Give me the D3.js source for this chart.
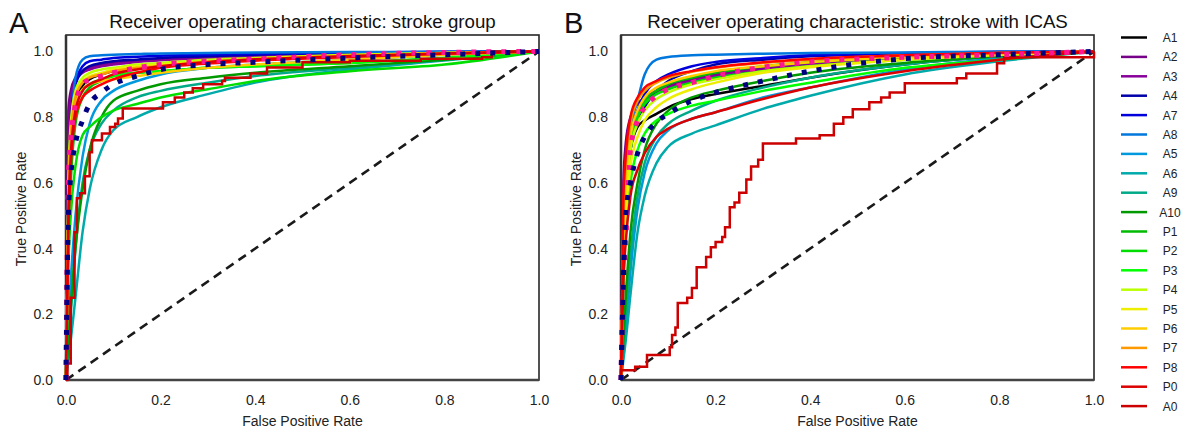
<!DOCTYPE html>
<html><head><meta charset="utf-8">
<script src="https://cdn.jsdelivr.net/npm/d3@7"></script>
<style>body{margin:0;background:#fff}svg{display:block;font-family:"Liberation Sans",Arial,sans-serif}</style>
</head><body><svg id="c" width="1185" height="430"></svg>
<script>
const seriesNames = ["A1","A2","A3","A4","A7","A8","A5","A6","A9","A10","P1","P2","P3","P4","P5","P6","P7","P8","P0","A0"];
const seriesColors = ["#000000","#770088","#880099","#0000aa","#0000dd","#0077dd","#0099dd","#00aaaa","#00aa88","#009900","#00bb00","#00dd00","#00ff00","#bbff00","#eeee00","#ffcc00","#ff9900","#ff0000","#dd0000","#cc0000"];
const fprGrid = [0,0.005,0.01,0.02,0.035,0.05,0.075,0.1,0.15,0.2,0.3,0.4,0.6,0.8,1];
const xTicks = [0,0.2,0.4,0.6,0.8,1.0];
const yTicks = [0,0.2,0.4,0.6,0.8,1.0];
const titles = ["Receiver operating characteristic: stroke group","Receiver operating characteristic: stroke with ICAS"];
const panelLetters = ["A","B"];

// Panel A: TPR at fprGrid for A1..P0
const tprA_A1 = [0,.55,.72,.84,.895,.915,.93,.94,.95,.955,.965,.975,.985,.995,1];
const tprA_A2 = [0,.82,.88,.92,.94,.95,.96,.965,.97,.975,.98,.985,.992,.997,1];
const tprA_A3 = [0,.75,.85,.91,.935,.945,.955,.96,.968,.973,.98,.985,.992,.997,1];
const tprA_A4 = [0,.6,.78,.9,.94,.955,.965,.97,.975,.98,.985,.99,.995,.998,1];
const tprA_A7 = [0,.5,.72,.9,.955,.97,.975,.98,.984,.987,.99,.993,.996,.999,1];
const tprA_A8 = [0,.45,.7,.92,.975,.985,.988,.99,.992,.994,.995,.997,.998,.999,1];
const tprA_A5 = [0,.15,.3,.5,.68,.78,.85,.88,.91,.93,.95,.96,.975,.99,1];
const tprA_A6 = [0,.06,.12,.25,.45,.58,.7,.76,.8,.83,.87,.905,.945,.972,1];
const tprA_A9 = [0,.1,.2,.4,.6,.7,.78,.82,.86,.88,.905,.925,.95,.975,1];
const tprA_A10 = [0,.12,.22,.4,.58,.7,.8,.85,.88,.9,.92,.935,.955,.975,1];
const tprA_P1 = [0,.4,.6,.78,.86,.89,.91,.925,.935,.94,.95,.955,.965,.98,1];
const tprA_P2 = [0,.35,.5,.65,.745,.77,.8,.82,.84,.86,.885,.91,.94,.96,1];
const tprA_P3 = [0,.5,.68,.82,.88,.9,.915,.925,.935,.94,.95,.955,.965,.98,1];
const tprA_P4 = [0,.6,.78,.88,.92,.935,.945,.95,.96,.965,.975,.98,.99,.995,1];
const tprA_P5 = [0,.55,.75,.87,.91,.925,.935,.945,.955,.96,.97,.978,.988,.995,1];
const tprA_P6 = [0,.5,.7,.84,.885,.9,.91,.915,.925,.935,.95,.96,.975,.99,1];
const tprA_P7 = [0,.55,.74,.86,.905,.92,.93,.94,.95,.955,.965,.975,.985,.995,1];
const tprA_P8 = [0,.45,.65,.8,.86,.88,.9,.915,.935,.95,.963,.972,.983,.993,1];
const tprA_P0 = [0,.5,.68,.82,.88,.9,.915,.93,.945,.955,.968,.976,.986,.994,1];
const tprA_pink = [0,.62,.73,.84,.9,.915,.925,.935,.95,.96,.97,.977,.99,.997,1];
const tprA_navy = [0,.5,.62,.72,.79,.84,.875,.9,.925,.945,.96,.967,.98,.99,1];
// A0 step curve points [fpr, tpr]
const stepA_fpr = [0,0.003,0.01,0.018,0.023,0.03,0.04,0.05,0.055,0.076,0.093,0.104,0.11,0.12,0.205,0.23,0.25,0.268,0.29,0.33,0.336,0.39,0.425,0.5,0.6,0.75,0.88,0.9,1];
const stepA_tpr = [0,0.05,0.25,0.45,0.553,0.568,0.62,0.693,0.73,0.75,0.77,0.78,0.796,0.826,0.845,0.86,0.875,0.888,0.9,0.91,0.92,0.933,0.951,0.967,0.972,0.978,0.982,1,1];

// Panel B
const tprB_A1 = [0,.4,.55,.7,.77,.79,.81,.83,.855,.87,.895,.92,.96,.985,1];
const tprB_A2 = [0,.6,.72,.8,.84,.86,.88,.895,.915,.93,.95,.965,.98,.993,1];
const tprB_A3 = [0,.5,.65,.76,.82,.85,.875,.89,.91,.925,.945,.96,.978,.992,1];
const tprB_A4 = [0,.3,.5,.7,.78,.83,.88,.91,.94,.96,.975,.985,.993,.998,1];
const tprB_A7 = [0,.35,.55,.72,.82,.87,.91,.93,.955,.968,.98,.988,.995,.999,1];
const tprB_A8 = [0,.4,.6,.76,.85,.93,.975,.983,.988,.99,.993,.995,.997,.999,1];
const tprB_A5 = [0,.08,.16,.33,.52,.63,.72,.76,.795,.815,.86,.89,.945,.98,1];
const tprB_A6 = [0,.06,.12,.26,.45,.56,.66,.71,.75,.775,.825,.865,.93,.97,1];
const tprB_A9 = [0,.1,.2,.38,.56,.66,.74,.78,.82,.85,.89,.92,.96,.985,1];
const tprB_A10 = [0,.12,.25,.45,.6,.7,.78,.82,.86,.88,.91,.935,.965,.985,1];
const tprB_P1 = [0,.4,.55,.7,.8,.85,.88,.9,.92,.935,.955,.967,.982,.993,1];
const tprB_P2 = [0,.45,.6,.72,.8,.84,.87,.885,.905,.92,.94,.955,.975,.99,1];
const tprB_P3 = [0,.3,.45,.6,.7,.75,.79,.81,.835,.85,.88,.905,.95,.975,1];
const tprB_P4 = [0,.4,.55,.7,.78,.82,.855,.875,.9,.915,.94,.955,.975,.99,1];
const tprB_P5 = [0,.35,.5,.65,.74,.79,.83,.855,.885,.905,.935,.952,.975,.99,1];
const tprB_P6 = [0,.45,.6,.74,.82,.86,.89,.905,.925,.94,.955,.967,.983,.993,1];
const tprB_P7 = [0,.5,.65,.78,.85,.88,.905,.92,.938,.95,.965,.975,.988,.995,1];
const tprB_P8 = [0,.55,.68,.8,.86,.89,.91,.925,.94,.952,.967,.977,.988,.996,1];
const tprB_P0 = [0,.3,.42,.56,.64,.69,.74,.765,.795,.815,.855,.89,.94,.975,1];
const tprB_pink = [0,.3,.42,.7,.79,.83,.865,.885,.905,.925,.952,.968,.982,.99,1];
const tprB_navy = [0,.3,.5,.6,.69,.74,.785,.81,.85,.875,.91,.94,.978,.99,1];
const stepB_fpr = [0,0,0.03,0.055,0.103,0.108,0.115,0.12,0.14,0.15,0.16,0.18,0.19,0.2,0.214,0.22,0.23,0.24,0.25,0.265,0.275,0.29,0.3,0.37,0.42,0.45,0.47,0.49,0.525,0.55,0.568,0.6,0.71,0.73,0.795,0.81,1];
const stepB_tpr = [0,0.03,0.04,0.076,0.1,0.137,0.16,0.234,0.25,0.28,0.343,0.374,0.404,0.42,0.435,0.465,0.526,0.54,0.57,0.61,0.65,0.67,0.72,0.735,0.745,0.78,0.8,0.824,0.845,0.86,0.875,0.903,0.918,0.933,0.964,0.982,1];

const panelsData = [
  {smooth:[tprA_A1,tprA_A2,tprA_A3,tprA_A4,tprA_A7,tprA_A8,tprA_A5,tprA_A6,tprA_A9,tprA_A10,tprA_P1,tprA_P2,tprA_P3,tprA_P4,tprA_P5,tprA_P6,tprA_P7,tprA_P8,tprA_P0],
   stepX:stepA_fpr, stepY:stepA_tpr, pink:tprA_pink, navy:tprA_navy},
  {smooth:[tprB_A1,tprB_A2,tprB_A3,tprB_A4,tprB_A7,tprB_A8,tprB_A5,tprB_A6,tprB_A9,tprB_A10,tprB_P1,tprB_P2,tprB_P3,tprB_P4,tprB_P5,tprB_P6,tprB_P7,tprB_P8,tprB_P0],
   stepX:stepB_fpr, stepY:stepB_tpr, pink:tprB_pink, navy:tprB_navy}
];

const svg = d3.select("#c");
const panelX = [66, 621];
const W = 473, plotTop = 35, plotBottom = 380;

panelsData.forEach((pd, pi) => {
  const x0 = panelX[pi];
  const x = d3.scaleLinear().domain([0,1]).range([x0, x0+W]);
  const y = d3.scaleLinear().domain([0,1.05]).range([plotBottom, plotTop]);
  const g = svg.append("g");
  g.append("rect").attr("x", x0).attr("y", plotTop).attr("width", W).attr("height", plotBottom-plotTop)
    .attr("fill","none").attr("stroke","#262626").attr("stroke-width",1.6);
  g.append("line").attr("x1",x0).attr("x2",x0).attr("y1",plotTop).attr("y2",plotBottom).attr("stroke","#333").attr("stroke-width",2.5);
  g.append("line").attr("x1",x0).attr("x2",x0+W).attr("y1",plotBottom).attr("y2",plotBottom).attr("stroke","#444").attr("stroke-width",2.5);
  const xa = d3.axisBottom(x).tickValues(xTicks).tickFormat(d3.format(".1f")).tickSize(0).tickPadding(15);
  const ya = d3.axisLeft(y).tickValues(yTicks).tickFormat(d3.format(".1f")).tickSize(0).tickPadding(13);
  const gx = g.append("g").attr("transform",`translate(0,${plotBottom})`).call(xa);
  const gy = g.append("g").attr("transform",`translate(${x0},0)`).call(ya);
  [gx,gy].forEach(a => { a.select(".domain").remove(); a.selectAll("text").attr("font-size",14).attr("fill","#222").attr("font-family",'"Liberation Sans",Arial,sans-serif'); });
  const lineLin = d3.line().x(d=>x(d[0])).y(d=>y(d[1]));
  g.append("path").attr("d", lineLin([[xTicks[0],yTicks[0]],[xTicks[5],yTicks[5]]])).attr("fill","none")
    .attr("stroke","#1a1a1a").attr("stroke-width",2.6).attr("stroke-dasharray","9,6");
  const lineSmooth = d3.line().x(d=>x(d[0])).y(d=>y(d[1])).curve(d3.curveMonotoneX);
  pd.smooth.forEach((arr, i) => {
    const pts = fprGrid.map((f,k)=>[f, arr[k]]);
    g.append("path").attr("d", lineSmooth(pts)).attr("fill","none")
      .attr("stroke", seriesColors[i]).attr("stroke-width",2.5).attr("stroke-linejoin","round");
  });
  const lineStep = d3.line().x(d=>x(d[0])).y(d=>y(d[1])).curve(d3.curveStepAfter);
  g.append("path").attr("d", lineStep(pd.stepX.map((f,k)=>[f, pd.stepY[k]]))).attr("fill","none")
    .attr("stroke", seriesColors[19]).attr("stroke-width",2.5);
  [[pd.pink,"#ff1493"],[pd.navy,"#000080"]].forEach(([arr,col]) => {
    g.append("path").attr("d", lineSmooth(fprGrid.map((f,k)=>[f, arr[k]]))).attr("fill","none")
      .attr("stroke", col).attr("stroke-width",5).attr("stroke-dasharray","5,10");
  });
  g.append("text").attr("x", x0+W/2).attr("y", 28).attr("text-anchor","middle").attr("font-size",18.7).attr("fill","#111").text(titles[pi]);
  g.append("text").attr("x", x0+W/2).attr("y", 426).attr("text-anchor","middle").attr("font-size",14).attr("fill","#222").text("False Positive Rate");
  g.append("text").attr("transform",`translate(${x0-40},209) rotate(-90)`).attr("text-anchor","middle").attr("font-size",14).attr("fill","#222").text("True Positive Rate");
  g.append("text").attr("x", x0-57).attr("y", 33).attr("font-size",29).attr("fill","#111").text(panelLetters[pi]);
});

const lg = svg.append("g");
seriesNames.forEach((n,i) => {
  const yy = 37.5 + i*19.4;
  lg.append("line").attr("x1",1121).attr("x2",1147).attr("y1",yy).attr("y2",yy).attr("stroke",seriesColors[i]).attr("stroke-width",2.5);
  lg.append("text").attr("x",1170).attr("y",yy+4.5).attr("text-anchor","middle").attr("font-size",12).attr("fill","#222").text(n);
});
</script></body></html>
